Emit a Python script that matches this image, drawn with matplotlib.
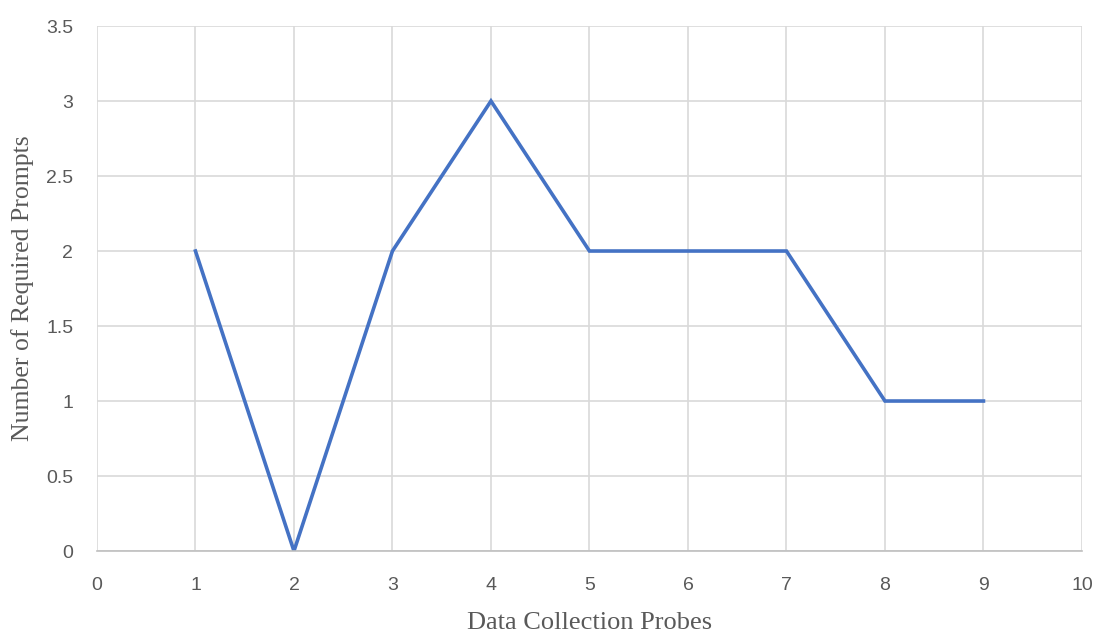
import matplotlib
matplotlib.use("Agg")
import matplotlib.pyplot as plt

probes = [1, 2, 3, 4, 5, 6, 7, 8, 9]
prompts = [2, 0, 2, 3, 2, 2, 2, 1, 1]

x_ticks = [0, 1, 2, 3, 4, 5, 6, 7, 8, 9, 10]
y_ticks = [0, 0.5, 1, 1.5, 2, 2.5, 3, 3.5]
y_labels = ["0", "0.5", "1", "1.5", "2", "2.5", "3", "3.5"]

fig = plt.figure(figsize=(10.98, 6.33), dpi=100)
ax = fig.add_axes([0.0883, 0.1295, 0.8971, 0.8294])

ax.plot(probes, prompts, color="#4472C4", linewidth=2.6, solid_joinstyle="miter")

ax.set_xlim(0, 10)
ax.set_ylim(0, 3.5)
ax.set_xticks(x_ticks)
ax.set_yticks(y_ticks)
ax.set_yticklabels(y_labels)
ax.grid(True, color="#D9D9D9", linewidth=1.2)
ax.set_axisbelow(True)

for side in ["top", "right", "left"]:
    ax.spines[side].set_visible(False)
ax.spines["bottom"].set_color("#BFBFBF")
ax.spines["bottom"].set_linewidth(1.2)

ax.tick_params(axis="both", length=0, labelsize=14, labelcolor="#595959")
ax.tick_params(axis="x", pad=19)
ax.tick_params(axis="y", pad=17)
for lab in ax.get_xticklabels() + ax.get_yticklabels():
    lab.set_family(["Liberation Sans", "DejaVu Sans"])

ax.set_xlabel("Data Collection Probes", family="Liberation Serif", fontsize=19,
              color="#595959", labelpad=13)
ax.set_ylabel("Number of Required Prompts", family="Liberation Serif", fontsize=18.5,
              color="#595959", labelpad=9)

fig.savefig("out.png", dpi=100)
